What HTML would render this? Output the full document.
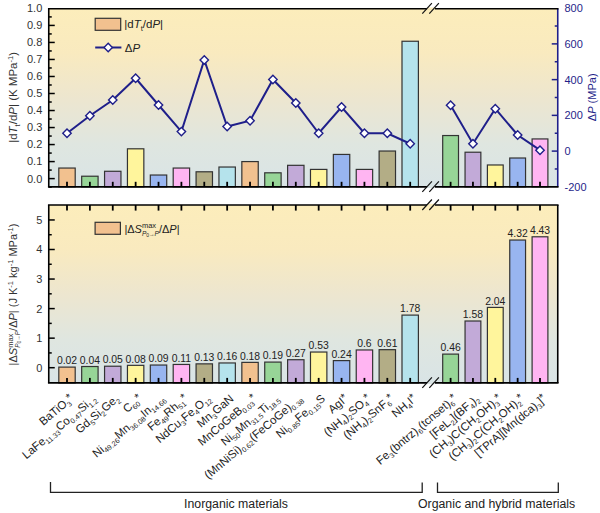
<!DOCTYPE html><html><head><meta charset="utf-8"><style>html,body{margin:0;padding:0;background:#fff;}svg{display:block}</style></head><body>
<svg width="600" height="513" viewBox="0 0 600 513">
<defs><linearGradient id="bg" x1="0" y1="0" x2="0" y2="1"><stop offset="0" stop-color="#fcedbb"/><stop offset="0.25" stop-color="#f9eabf"/><stop offset="0.5" stop-color="#ede6cf"/><stop offset="0.76" stop-color="#dfe6e0"/><stop offset="1" stop-color="#d9e4e6"/></linearGradient></defs>
<rect x="48.75" y="8.7" width="509.0" height="178.10000000000002" fill="url(#bg)"/>
<rect x="48.75" y="205.0" width="509.0" height="177.89999999999998" fill="url(#bg)"/>
<rect x="58.80" y="168.05" width="16.40" height="18.75" fill="#f2c18f" stroke="#333" stroke-width="1.2"/>
<rect x="81.68" y="176.22" width="16.40" height="10.58" fill="#97d597" stroke="#333" stroke-width="1.2"/>
<rect x="104.56" y="171.28" width="16.40" height="15.52" fill="#c2aad8" stroke="#333" stroke-width="1.2"/>
<rect x="127.44" y="148.81" width="16.40" height="37.99" fill="#fff59c" stroke="#333" stroke-width="1.2"/>
<rect x="150.32" y="175.03" width="16.40" height="11.77" fill="#98b5f0" stroke="#333" stroke-width="1.2"/>
<rect x="173.20" y="168.05" width="16.40" height="18.75" fill="#ffb5f2" stroke="#333" stroke-width="1.2"/>
<rect x="196.08" y="171.79" width="16.40" height="15.01" fill="#b3ad86" stroke="#333" stroke-width="1.2"/>
<rect x="218.96" y="167.03" width="16.40" height="19.77" fill="#b5e3ec" stroke="#333" stroke-width="1.2"/>
<rect x="241.84" y="161.58" width="16.40" height="25.22" fill="#f2c18f" stroke="#333" stroke-width="1.2"/>
<rect x="264.72" y="172.81" width="16.40" height="13.99" fill="#97d597" stroke="#333" stroke-width="1.2"/>
<rect x="287.60" y="165.32" width="16.40" height="21.48" fill="#c2aad8" stroke="#333" stroke-width="1.2"/>
<rect x="310.48" y="169.41" width="16.40" height="17.39" fill="#fff59c" stroke="#333" stroke-width="1.2"/>
<rect x="333.36" y="154.43" width="16.40" height="32.37" fill="#98b5f0" stroke="#333" stroke-width="1.2"/>
<rect x="356.24" y="169.41" width="16.40" height="17.39" fill="#ffb5f2" stroke="#333" stroke-width="1.2"/>
<rect x="379.12" y="151.03" width="16.40" height="35.77" fill="#b3ad86" stroke="#333" stroke-width="1.2"/>
<rect x="402.00" y="41.25" width="16.40" height="145.55" fill="#b5e3ec" stroke="#333" stroke-width="1.2"/>
<rect x="442.70" y="135.54" width="15.80" height="51.26" fill="#97d597" stroke="#333" stroke-width="1.2"/>
<rect x="465.05" y="152.22" width="15.80" height="34.58" fill="#c2aad8" stroke="#333" stroke-width="1.2"/>
<rect x="487.40" y="164.98" width="15.80" height="21.82" fill="#fff59c" stroke="#333" stroke-width="1.2"/>
<rect x="509.75" y="158.01" width="15.80" height="28.79" fill="#98b5f0" stroke="#333" stroke-width="1.2"/>
<rect x="532.10" y="138.94" width="15.80" height="47.86" fill="#ffb5f2" stroke="#333" stroke-width="1.2"/>
<rect x="58.80" y="367.11" width="16.40" height="15.79" fill="#f2c18f" stroke="#333" stroke-width="1.2"/>
<rect x="81.68" y="366.52" width="16.40" height="16.38" fill="#97d597" stroke="#333" stroke-width="1.2"/>
<rect x="104.56" y="366.22" width="16.40" height="16.68" fill="#c2aad8" stroke="#333" stroke-width="1.2"/>
<rect x="127.44" y="365.34" width="16.40" height="17.56" fill="#fff59c" stroke="#333" stroke-width="1.2"/>
<rect x="150.32" y="365.04" width="16.40" height="17.86" fill="#98b5f0" stroke="#333" stroke-width="1.2"/>
<rect x="173.20" y="364.45" width="16.40" height="18.45" fill="#ffb5f2" stroke="#333" stroke-width="1.2"/>
<rect x="196.08" y="363.86" width="16.40" height="19.04" fill="#b3ad86" stroke="#333" stroke-width="1.2"/>
<rect x="218.96" y="362.97" width="16.40" height="19.93" fill="#b5e3ec" stroke="#333" stroke-width="1.2"/>
<rect x="241.84" y="362.38" width="16.40" height="20.52" fill="#f2c18f" stroke="#333" stroke-width="1.2"/>
<rect x="264.72" y="362.09" width="16.40" height="20.81" fill="#97d597" stroke="#333" stroke-width="1.2"/>
<rect x="287.60" y="359.72" width="16.40" height="23.18" fill="#c2aad8" stroke="#333" stroke-width="1.2"/>
<rect x="310.48" y="352.04" width="16.40" height="30.86" fill="#fff59c" stroke="#333" stroke-width="1.2"/>
<rect x="333.36" y="360.61" width="16.40" height="22.29" fill="#98b5f0" stroke="#333" stroke-width="1.2"/>
<rect x="356.24" y="349.97" width="16.40" height="32.93" fill="#ffb5f2" stroke="#333" stroke-width="1.2"/>
<rect x="379.12" y="349.67" width="16.40" height="33.23" fill="#b3ad86" stroke="#333" stroke-width="1.2"/>
<rect x="402.00" y="315.10" width="16.40" height="67.80" fill="#b5e3ec" stroke="#333" stroke-width="1.2"/>
<rect x="442.70" y="354.11" width="15.80" height="28.79" fill="#97d597" stroke="#333" stroke-width="1.2"/>
<rect x="465.05" y="321.01" width="15.80" height="61.89" fill="#c2aad8" stroke="#333" stroke-width="1.2"/>
<rect x="487.40" y="307.42" width="15.80" height="75.48" fill="#fff59c" stroke="#333" stroke-width="1.2"/>
<rect x="509.75" y="240.04" width="15.80" height="142.86" fill="#98b5f0" stroke="#333" stroke-width="1.2"/>
<rect x="532.10" y="236.79" width="15.80" height="146.11" fill="#ffb5f2" stroke="#333" stroke-width="1.2"/>
<line x1="67.00" y1="186.8" x2="67.00" y2="181.8" stroke="#000" stroke-width="1.8"/>
<line x1="67.00" y1="382.9" x2="67.00" y2="377.9" stroke="#000" stroke-width="1.8"/>
<line x1="67.00" y1="205.0" x2="67.00" y2="210.6" stroke="#000" stroke-width="1.8"/>
<line x1="89.88" y1="186.8" x2="89.88" y2="181.8" stroke="#000" stroke-width="1.8"/>
<line x1="89.88" y1="382.9" x2="89.88" y2="377.9" stroke="#000" stroke-width="1.8"/>
<line x1="89.88" y1="205.0" x2="89.88" y2="210.6" stroke="#000" stroke-width="1.8"/>
<line x1="112.76" y1="186.8" x2="112.76" y2="181.8" stroke="#000" stroke-width="1.8"/>
<line x1="112.76" y1="382.9" x2="112.76" y2="377.9" stroke="#000" stroke-width="1.8"/>
<line x1="112.76" y1="205.0" x2="112.76" y2="210.6" stroke="#000" stroke-width="1.8"/>
<line x1="135.64" y1="186.8" x2="135.64" y2="181.8" stroke="#000" stroke-width="1.8"/>
<line x1="135.64" y1="382.9" x2="135.64" y2="377.9" stroke="#000" stroke-width="1.8"/>
<line x1="135.64" y1="205.0" x2="135.64" y2="210.6" stroke="#000" stroke-width="1.8"/>
<line x1="158.52" y1="186.8" x2="158.52" y2="181.8" stroke="#000" stroke-width="1.8"/>
<line x1="158.52" y1="382.9" x2="158.52" y2="377.9" stroke="#000" stroke-width="1.8"/>
<line x1="158.52" y1="205.0" x2="158.52" y2="210.6" stroke="#000" stroke-width="1.8"/>
<line x1="181.40" y1="186.8" x2="181.40" y2="181.8" stroke="#000" stroke-width="1.8"/>
<line x1="181.40" y1="382.9" x2="181.40" y2="377.9" stroke="#000" stroke-width="1.8"/>
<line x1="181.40" y1="205.0" x2="181.40" y2="210.6" stroke="#000" stroke-width="1.8"/>
<line x1="204.28" y1="186.8" x2="204.28" y2="181.8" stroke="#000" stroke-width="1.8"/>
<line x1="204.28" y1="382.9" x2="204.28" y2="377.9" stroke="#000" stroke-width="1.8"/>
<line x1="204.28" y1="205.0" x2="204.28" y2="210.6" stroke="#000" stroke-width="1.8"/>
<line x1="227.16" y1="186.8" x2="227.16" y2="181.8" stroke="#000" stroke-width="1.8"/>
<line x1="227.16" y1="382.9" x2="227.16" y2="377.9" stroke="#000" stroke-width="1.8"/>
<line x1="227.16" y1="205.0" x2="227.16" y2="210.6" stroke="#000" stroke-width="1.8"/>
<line x1="250.04" y1="186.8" x2="250.04" y2="181.8" stroke="#000" stroke-width="1.8"/>
<line x1="250.04" y1="382.9" x2="250.04" y2="377.9" stroke="#000" stroke-width="1.8"/>
<line x1="250.04" y1="205.0" x2="250.04" y2="210.6" stroke="#000" stroke-width="1.8"/>
<line x1="272.92" y1="186.8" x2="272.92" y2="181.8" stroke="#000" stroke-width="1.8"/>
<line x1="272.92" y1="382.9" x2="272.92" y2="377.9" stroke="#000" stroke-width="1.8"/>
<line x1="272.92" y1="205.0" x2="272.92" y2="210.6" stroke="#000" stroke-width="1.8"/>
<line x1="295.80" y1="186.8" x2="295.80" y2="181.8" stroke="#000" stroke-width="1.8"/>
<line x1="295.80" y1="382.9" x2="295.80" y2="377.9" stroke="#000" stroke-width="1.8"/>
<line x1="295.80" y1="205.0" x2="295.80" y2="210.6" stroke="#000" stroke-width="1.8"/>
<line x1="318.68" y1="186.8" x2="318.68" y2="181.8" stroke="#000" stroke-width="1.8"/>
<line x1="318.68" y1="382.9" x2="318.68" y2="377.9" stroke="#000" stroke-width="1.8"/>
<line x1="318.68" y1="205.0" x2="318.68" y2="210.6" stroke="#000" stroke-width="1.8"/>
<line x1="341.56" y1="186.8" x2="341.56" y2="181.8" stroke="#000" stroke-width="1.8"/>
<line x1="341.56" y1="382.9" x2="341.56" y2="377.9" stroke="#000" stroke-width="1.8"/>
<line x1="341.56" y1="205.0" x2="341.56" y2="210.6" stroke="#000" stroke-width="1.8"/>
<line x1="364.44" y1="186.8" x2="364.44" y2="181.8" stroke="#000" stroke-width="1.8"/>
<line x1="364.44" y1="382.9" x2="364.44" y2="377.9" stroke="#000" stroke-width="1.8"/>
<line x1="364.44" y1="205.0" x2="364.44" y2="210.6" stroke="#000" stroke-width="1.8"/>
<line x1="387.32" y1="186.8" x2="387.32" y2="181.8" stroke="#000" stroke-width="1.8"/>
<line x1="387.32" y1="382.9" x2="387.32" y2="377.9" stroke="#000" stroke-width="1.8"/>
<line x1="387.32" y1="205.0" x2="387.32" y2="210.6" stroke="#000" stroke-width="1.8"/>
<line x1="410.20" y1="186.8" x2="410.20" y2="181.8" stroke="#000" stroke-width="1.8"/>
<line x1="410.20" y1="382.9" x2="410.20" y2="377.9" stroke="#000" stroke-width="1.8"/>
<line x1="410.20" y1="205.0" x2="410.20" y2="210.6" stroke="#000" stroke-width="1.8"/>
<line x1="450.60" y1="186.8" x2="450.60" y2="181.8" stroke="#000" stroke-width="1.8"/>
<line x1="450.60" y1="382.9" x2="450.60" y2="377.9" stroke="#000" stroke-width="1.8"/>
<line x1="450.60" y1="205.0" x2="450.60" y2="210.6" stroke="#000" stroke-width="1.8"/>
<line x1="472.95" y1="186.8" x2="472.95" y2="181.8" stroke="#000" stroke-width="1.8"/>
<line x1="472.95" y1="382.9" x2="472.95" y2="377.9" stroke="#000" stroke-width="1.8"/>
<line x1="472.95" y1="205.0" x2="472.95" y2="210.6" stroke="#000" stroke-width="1.8"/>
<line x1="495.30" y1="186.8" x2="495.30" y2="181.8" stroke="#000" stroke-width="1.8"/>
<line x1="495.30" y1="382.9" x2="495.30" y2="377.9" stroke="#000" stroke-width="1.8"/>
<line x1="495.30" y1="205.0" x2="495.30" y2="210.6" stroke="#000" stroke-width="1.8"/>
<line x1="517.65" y1="186.8" x2="517.65" y2="181.8" stroke="#000" stroke-width="1.8"/>
<line x1="517.65" y1="382.9" x2="517.65" y2="377.9" stroke="#000" stroke-width="1.8"/>
<line x1="517.65" y1="205.0" x2="517.65" y2="210.6" stroke="#000" stroke-width="1.8"/>
<line x1="540.00" y1="186.8" x2="540.00" y2="181.8" stroke="#000" stroke-width="1.8"/>
<line x1="540.00" y1="382.9" x2="540.00" y2="377.9" stroke="#000" stroke-width="1.8"/>
<line x1="540.00" y1="205.0" x2="540.00" y2="210.6" stroke="#000" stroke-width="1.8"/>
<polyline points="67.00,133.25 89.88,115.75 112.76,100.00 135.64,78.25 158.52,105.00 181.40,131.60 204.28,60.00 227.16,126.50 250.04,120.75 272.92,79.50 295.80,103.00 318.68,133.25 341.56,107.00 364.44,133.25 387.32,133.25 410.20,143.75" fill="none" stroke="#1f1f8a" stroke-width="2"/>
<polyline points="450.60,105.20 472.95,143.70 495.30,108.70 517.65,135.00 540.00,150.20" fill="none" stroke="#1f1f8a" stroke-width="2"/>
<path d="M67.00,129.05 L71.20,133.25 L67.00,137.45 L62.80,133.25 Z" fill="#fff" stroke="#1f1f8a" stroke-width="1.4"/>
<path d="M89.88,111.55 L94.08,115.75 L89.88,119.95 L85.68,115.75 Z" fill="#fff" stroke="#1f1f8a" stroke-width="1.4"/>
<path d="M112.76,95.80 L116.96,100.00 L112.76,104.20 L108.56,100.00 Z" fill="#fff" stroke="#1f1f8a" stroke-width="1.4"/>
<path d="M135.64,74.05 L139.84,78.25 L135.64,82.45 L131.44,78.25 Z" fill="#fff" stroke="#1f1f8a" stroke-width="1.4"/>
<path d="M158.52,100.80 L162.72,105.00 L158.52,109.20 L154.32,105.00 Z" fill="#fff" stroke="#1f1f8a" stroke-width="1.4"/>
<path d="M181.40,127.40 L185.60,131.60 L181.40,135.80 L177.20,131.60 Z" fill="#fff" stroke="#1f1f8a" stroke-width="1.4"/>
<path d="M204.28,55.80 L208.48,60.00 L204.28,64.20 L200.08,60.00 Z" fill="#fff" stroke="#1f1f8a" stroke-width="1.4"/>
<path d="M227.16,122.30 L231.36,126.50 L227.16,130.70 L222.96,126.50 Z" fill="#fff" stroke="#1f1f8a" stroke-width="1.4"/>
<path d="M250.04,116.55 L254.24,120.75 L250.04,124.95 L245.84,120.75 Z" fill="#fff" stroke="#1f1f8a" stroke-width="1.4"/>
<path d="M272.92,75.30 L277.12,79.50 L272.92,83.70 L268.72,79.50 Z" fill="#fff" stroke="#1f1f8a" stroke-width="1.4"/>
<path d="M295.80,98.80 L300.00,103.00 L295.80,107.20 L291.60,103.00 Z" fill="#fff" stroke="#1f1f8a" stroke-width="1.4"/>
<path d="M318.68,129.05 L322.88,133.25 L318.68,137.45 L314.48,133.25 Z" fill="#fff" stroke="#1f1f8a" stroke-width="1.4"/>
<path d="M341.56,102.80 L345.76,107.00 L341.56,111.20 L337.36,107.00 Z" fill="#fff" stroke="#1f1f8a" stroke-width="1.4"/>
<path d="M364.44,129.05 L368.64,133.25 L364.44,137.45 L360.24,133.25 Z" fill="#fff" stroke="#1f1f8a" stroke-width="1.4"/>
<path d="M387.32,129.05 L391.52,133.25 L387.32,137.45 L383.12,133.25 Z" fill="#fff" stroke="#1f1f8a" stroke-width="1.4"/>
<path d="M410.20,139.55 L414.40,143.75 L410.20,147.95 L406.00,143.75 Z" fill="#fff" stroke="#1f1f8a" stroke-width="1.4"/>
<path d="M450.60,101.00 L454.80,105.20 L450.60,109.40 L446.40,105.20 Z" fill="#fff" stroke="#1f1f8a" stroke-width="1.4"/>
<path d="M472.95,139.50 L477.15,143.70 L472.95,147.90 L468.75,143.70 Z" fill="#fff" stroke="#1f1f8a" stroke-width="1.4"/>
<path d="M495.30,104.50 L499.50,108.70 L495.30,112.90 L491.10,108.70 Z" fill="#fff" stroke="#1f1f8a" stroke-width="1.4"/>
<path d="M517.65,130.80 L521.85,135.00 L517.65,139.20 L513.45,135.00 Z" fill="#fff" stroke="#1f1f8a" stroke-width="1.4"/>
<path d="M540.00,146.00 L544.20,150.20 L540.00,154.40 L535.80,150.20 Z" fill="#fff" stroke="#1f1f8a" stroke-width="1.4"/>
<line x1="48.75" y1="8.7" x2="48.75" y2="186.8" stroke="#000" stroke-width="1.6"/>
<line x1="557.75" y1="8.7" x2="557.75" y2="186.8" stroke="#1f1f8a" stroke-width="1.6"/>
<line x1="47.95" y1="8.7" x2="558.55" y2="8.7" stroke="#000" stroke-width="1.5"/>
<line x1="47.95" y1="186.8" x2="558.55" y2="186.8" stroke="#000" stroke-width="1.8"/>
<line x1="48.75" y1="205.0" x2="48.75" y2="382.9" stroke="#000" stroke-width="1.6"/>
<line x1="557.75" y1="205.0" x2="557.75" y2="382.9" stroke="#000" stroke-width="1.6"/>
<line x1="47.95" y1="205.0" x2="558.55" y2="205.0" stroke="#000" stroke-width="1.5"/>
<line x1="47.95" y1="382.9" x2="558.55" y2="382.9" stroke="#000" stroke-width="1.8"/>
<line x1="48.75" y1="178.60" x2="54.75" y2="178.60" stroke="#000" stroke-width="1.5"/>
<line x1="48.75" y1="170.09" x2="51.75" y2="170.09" stroke="#000" stroke-width="1.5"/>
<line x1="48.75" y1="161.58" x2="54.75" y2="161.58" stroke="#000" stroke-width="1.5"/>
<line x1="48.75" y1="153.07" x2="51.75" y2="153.07" stroke="#000" stroke-width="1.5"/>
<line x1="48.75" y1="144.56" x2="54.75" y2="144.56" stroke="#000" stroke-width="1.5"/>
<line x1="48.75" y1="136.05" x2="51.75" y2="136.05" stroke="#000" stroke-width="1.5"/>
<line x1="48.75" y1="127.54" x2="54.75" y2="127.54" stroke="#000" stroke-width="1.5"/>
<line x1="48.75" y1="119.03" x2="51.75" y2="119.03" stroke="#000" stroke-width="1.5"/>
<line x1="48.75" y1="110.52" x2="54.75" y2="110.52" stroke="#000" stroke-width="1.5"/>
<line x1="48.75" y1="102.01" x2="51.75" y2="102.01" stroke="#000" stroke-width="1.5"/>
<line x1="48.75" y1="93.50" x2="54.75" y2="93.50" stroke="#000" stroke-width="1.5"/>
<line x1="48.75" y1="84.99" x2="51.75" y2="84.99" stroke="#000" stroke-width="1.5"/>
<line x1="48.75" y1="76.48" x2="54.75" y2="76.48" stroke="#000" stroke-width="1.5"/>
<line x1="48.75" y1="67.97" x2="51.75" y2="67.97" stroke="#000" stroke-width="1.5"/>
<line x1="48.75" y1="59.46" x2="54.75" y2="59.46" stroke="#000" stroke-width="1.5"/>
<line x1="48.75" y1="50.95" x2="51.75" y2="50.95" stroke="#000" stroke-width="1.5"/>
<line x1="48.75" y1="42.44" x2="54.75" y2="42.44" stroke="#000" stroke-width="1.5"/>
<line x1="48.75" y1="33.93" x2="51.75" y2="33.93" stroke="#000" stroke-width="1.5"/>
<line x1="48.75" y1="25.42" x2="54.75" y2="25.42" stroke="#000" stroke-width="1.5"/>
<line x1="48.75" y1="16.91" x2="51.75" y2="16.91" stroke="#000" stroke-width="1.5"/>
<line x1="48.75" y1="187.11" x2="51.75" y2="187.11" stroke="#000" stroke-width="1.5"/>
<text x="42.3" y="182.50" text-anchor="end" font-size="11" font-family="Liberation Sans, sans-serif" fill="#333">0.0</text>
<text x="42.3" y="165.48" text-anchor="end" font-size="11" font-family="Liberation Sans, sans-serif" fill="#333">0.1</text>
<text x="42.3" y="148.46" text-anchor="end" font-size="11" font-family="Liberation Sans, sans-serif" fill="#333">0.2</text>
<text x="42.3" y="131.44" text-anchor="end" font-size="11" font-family="Liberation Sans, sans-serif" fill="#333">0.3</text>
<text x="42.3" y="114.42" text-anchor="end" font-size="11" font-family="Liberation Sans, sans-serif" fill="#333">0.4</text>
<text x="42.3" y="97.40" text-anchor="end" font-size="11" font-family="Liberation Sans, sans-serif" fill="#333">0.5</text>
<text x="42.3" y="80.38" text-anchor="end" font-size="11" font-family="Liberation Sans, sans-serif" fill="#333">0.6</text>
<text x="42.3" y="63.36" text-anchor="end" font-size="11" font-family="Liberation Sans, sans-serif" fill="#333">0.7</text>
<text x="42.3" y="46.34" text-anchor="end" font-size="11" font-family="Liberation Sans, sans-serif" fill="#333">0.8</text>
<text x="42.3" y="29.32" text-anchor="end" font-size="11" font-family="Liberation Sans, sans-serif" fill="#333">0.9</text>
<text x="42.3" y="12.30" text-anchor="end" font-size="11" font-family="Liberation Sans, sans-serif" fill="#333">1.0</text>
<line x1="557.75" y1="168.97" x2="554.75" y2="168.97" stroke="#1f1f8a" stroke-width="1.5"/>
<line x1="557.75" y1="151.10" x2="551.75" y2="151.10" stroke="#1f1f8a" stroke-width="1.5"/>
<line x1="557.75" y1="133.23" x2="554.75" y2="133.23" stroke="#1f1f8a" stroke-width="1.5"/>
<line x1="557.75" y1="115.36" x2="551.75" y2="115.36" stroke="#1f1f8a" stroke-width="1.5"/>
<line x1="557.75" y1="97.49" x2="554.75" y2="97.49" stroke="#1f1f8a" stroke-width="1.5"/>
<line x1="557.75" y1="79.62" x2="551.75" y2="79.62" stroke="#1f1f8a" stroke-width="1.5"/>
<line x1="557.75" y1="61.75" x2="554.75" y2="61.75" stroke="#1f1f8a" stroke-width="1.5"/>
<line x1="557.75" y1="43.88" x2="551.75" y2="43.88" stroke="#1f1f8a" stroke-width="1.5"/>
<line x1="557.75" y1="26.01" x2="554.75" y2="26.01" stroke="#1f1f8a" stroke-width="1.5"/>
<text x="564.5" y="190.74" font-size="11" font-family="Liberation Sans, sans-serif" fill="#1f1f8a">-200</text>
<text x="564.5" y="155.00" font-size="11" font-family="Liberation Sans, sans-serif" fill="#1f1f8a">0</text>
<text x="564.5" y="119.26" font-size="11" font-family="Liberation Sans, sans-serif" fill="#1f1f8a">200</text>
<text x="564.5" y="83.52" font-size="11" font-family="Liberation Sans, sans-serif" fill="#1f1f8a">400</text>
<text x="564.5" y="47.78" font-size="11" font-family="Liberation Sans, sans-serif" fill="#1f1f8a">600</text>
<text x="564.5" y="12.04" font-size="11" font-family="Liberation Sans, sans-serif" fill="#1f1f8a">800</text>
<line x1="48.75" y1="367.70" x2="54.75" y2="367.70" stroke="#000" stroke-width="1.5"/>
<line x1="48.75" y1="352.93" x2="51.75" y2="352.93" stroke="#000" stroke-width="1.5"/>
<line x1="48.75" y1="338.15" x2="54.75" y2="338.15" stroke="#000" stroke-width="1.5"/>
<line x1="48.75" y1="323.38" x2="51.75" y2="323.38" stroke="#000" stroke-width="1.5"/>
<line x1="48.75" y1="308.60" x2="54.75" y2="308.60" stroke="#000" stroke-width="1.5"/>
<line x1="48.75" y1="293.82" x2="51.75" y2="293.82" stroke="#000" stroke-width="1.5"/>
<line x1="48.75" y1="279.05" x2="54.75" y2="279.05" stroke="#000" stroke-width="1.5"/>
<line x1="48.75" y1="264.27" x2="51.75" y2="264.27" stroke="#000" stroke-width="1.5"/>
<line x1="48.75" y1="249.50" x2="54.75" y2="249.50" stroke="#000" stroke-width="1.5"/>
<line x1="48.75" y1="234.72" x2="51.75" y2="234.72" stroke="#000" stroke-width="1.5"/>
<line x1="48.75" y1="219.95" x2="54.75" y2="219.95" stroke="#000" stroke-width="1.5"/>
<text x="42.3" y="371.60" text-anchor="end" font-size="11" font-family="Liberation Sans, sans-serif" fill="#333">0</text>
<text x="42.3" y="342.05" text-anchor="end" font-size="11" font-family="Liberation Sans, sans-serif" fill="#333">1</text>
<text x="42.3" y="312.50" text-anchor="end" font-size="11" font-family="Liberation Sans, sans-serif" fill="#333">2</text>
<text x="42.3" y="282.95" text-anchor="end" font-size="11" font-family="Liberation Sans, sans-serif" fill="#333">3</text>
<text x="42.3" y="253.40" text-anchor="end" font-size="11" font-family="Liberation Sans, sans-serif" fill="#333">4</text>
<text x="42.3" y="223.85" text-anchor="end" font-size="11" font-family="Liberation Sans, sans-serif" fill="#333">5</text>
<text x="67.00" y="364.31" text-anchor="middle" font-size="10.4" font-family="Liberation Sans, sans-serif" fill="#222">0.02</text>
<text x="89.88" y="363.72" text-anchor="middle" font-size="10.4" font-family="Liberation Sans, sans-serif" fill="#222">0.04</text>
<text x="112.76" y="363.42" text-anchor="middle" font-size="10.4" font-family="Liberation Sans, sans-serif" fill="#222">0.05</text>
<text x="135.64" y="362.54" text-anchor="middle" font-size="10.4" font-family="Liberation Sans, sans-serif" fill="#222">0.08</text>
<text x="158.52" y="362.24" text-anchor="middle" font-size="10.4" font-family="Liberation Sans, sans-serif" fill="#222">0.09</text>
<text x="181.40" y="361.65" text-anchor="middle" font-size="10.4" font-family="Liberation Sans, sans-serif" fill="#222">0.11</text>
<text x="204.28" y="361.06" text-anchor="middle" font-size="10.4" font-family="Liberation Sans, sans-serif" fill="#222">0.13</text>
<text x="227.16" y="360.17" text-anchor="middle" font-size="10.4" font-family="Liberation Sans, sans-serif" fill="#222">0.16</text>
<text x="250.04" y="359.58" text-anchor="middle" font-size="10.4" font-family="Liberation Sans, sans-serif" fill="#222">0.18</text>
<text x="272.92" y="359.29" text-anchor="middle" font-size="10.4" font-family="Liberation Sans, sans-serif" fill="#222">0.19</text>
<text x="295.80" y="356.92" text-anchor="middle" font-size="10.4" font-family="Liberation Sans, sans-serif" fill="#222">0.27</text>
<text x="318.68" y="349.24" text-anchor="middle" font-size="10.4" font-family="Liberation Sans, sans-serif" fill="#222">0.53</text>
<text x="341.56" y="357.81" text-anchor="middle" font-size="10.4" font-family="Liberation Sans, sans-serif" fill="#222">0.24</text>
<text x="364.44" y="347.17" text-anchor="middle" font-size="10.4" font-family="Liberation Sans, sans-serif" fill="#222">0.6</text>
<text x="387.32" y="346.87" text-anchor="middle" font-size="10.4" font-family="Liberation Sans, sans-serif" fill="#222">0.61</text>
<text x="410.20" y="312.30" text-anchor="middle" font-size="10.4" font-family="Liberation Sans, sans-serif" fill="#222">1.78</text>
<text x="450.60" y="351.31" text-anchor="middle" font-size="10.4" font-family="Liberation Sans, sans-serif" fill="#222">0.46</text>
<text x="472.95" y="318.21" text-anchor="middle" font-size="10.4" font-family="Liberation Sans, sans-serif" fill="#222">1.58</text>
<text x="495.30" y="304.62" text-anchor="middle" font-size="10.4" font-family="Liberation Sans, sans-serif" fill="#222">2.04</text>
<text x="517.65" y="237.24" text-anchor="middle" font-size="10.4" font-family="Liberation Sans, sans-serif" fill="#222">4.32</text>
<text x="540.00" y="233.99" text-anchor="middle" font-size="10.4" font-family="Liberation Sans, sans-serif" fill="#222">4.43</text>
<rect x="427" y="185.60000000000002" width="8" height="2.4" fill="#dae4e5"/>
<line x1="422.3" y1="191.8" x2="431.90000000000003" y2="181.3" stroke="#111" stroke-width="1.2"/>
<line x1="429.3" y1="191.8" x2="438.90000000000003" y2="181.3" stroke="#111" stroke-width="1.2"/>
<rect x="427" y="7.499999999999999" width="8" height="2.4" fill="#fcedbb"/>
<line x1="422.3" y1="13.7" x2="431.90000000000003" y2="3.1999999999999993" stroke="#111" stroke-width="1.2"/>
<line x1="429.3" y1="13.7" x2="438.90000000000003" y2="3.1999999999999993" stroke="#111" stroke-width="1.2"/>
<rect x="427" y="203.8" width="8" height="2.4" fill="#fcedbb"/>
<line x1="422.3" y1="210.0" x2="431.90000000000003" y2="199.5" stroke="#111" stroke-width="1.2"/>
<line x1="429.3" y1="210.0" x2="438.90000000000003" y2="199.5" stroke="#111" stroke-width="1.2"/>
<rect x="427" y="381.7" width="8" height="2.4" fill="#dae4e5"/>
<line x1="422.3" y1="387.9" x2="431.90000000000003" y2="377.4" stroke="#111" stroke-width="1.2"/>
<line x1="429.3" y1="387.9" x2="438.90000000000003" y2="377.4" stroke="#111" stroke-width="1.2"/>
<text transform="translate(17.2,97.4) rotate(-90)" text-anchor="middle" font-size="11.5" font-family="Liberation Sans, sans-serif" fill="#333">|d<tspan font-style="italic">T</tspan><tspan font-size="7.5" dy="2.5">t</tspan><tspan dy="-2.5">/d</tspan><tspan font-style="italic">P</tspan>| (K MPa<tspan font-size="7.5" dy="-4">-1</tspan><tspan dy="4">)</tspan></text>
<text transform="translate(17.2,294.5) rotate(-90)" text-anchor="middle" font-size="11" font-family="Liberation Sans, sans-serif" fill="#333">|&#916;<tspan font-style="italic">S</tspan><tspan font-size="7.5" dy="-4.2">max</tspan><tspan font-size="6.5" dy="7" dx="-14.2" font-style="italic">P</tspan><tspan font-size="5" dy="1.3">0</tspan><tspan font-size="5.5" dy="-1.3">&#8594;</tspan><tspan font-size="6.5" font-style="italic">P</tspan><tspan dy="-2.8">/&#916;</tspan><tspan font-style="italic">P</tspan>| (J K<tspan font-size="7.5" dy="-4">-1</tspan><tspan dy="4"> kg</tspan><tspan font-size="7.5" dy="-4">-1</tspan><tspan dy="4"> MPa</tspan><tspan font-size="7.5" dy="-4">-1</tspan><tspan dy="4">)</tspan></text>
<text transform="translate(596.2,97.3) rotate(-90)" text-anchor="middle" font-size="11" font-family="Liberation Sans, sans-serif" fill="#1f1f8a">&#916;<tspan font-style="italic">P</tspan> (MPa)</text>
<rect x="95.2" y="18.3" width="25.5" height="12" fill="#f2c18f" stroke="#333" stroke-width="1.2"/>
<text x="124.3" y="28" font-size="11.5" font-family="Liberation Sans, sans-serif" fill="#222">|d<tspan font-style="italic">T</tspan><tspan font-size="7.5" dy="2.5">t</tspan><tspan dy="-2.5">/d</tspan><tspan font-style="italic">P</tspan>|</text>
<line x1="95.2" y1="47.5" x2="121.4" y2="47.5" stroke="#1f1f8a" stroke-width="2"/>
<path d="M108.20,43.30 L112.40,47.50 L108.20,51.70 L104.00,47.50 Z" fill="#fff" stroke="#1f1f8a" stroke-width="1.4"/>
<text x="124.7" y="51.5" font-size="11.5" font-family="Liberation Sans, sans-serif" fill="#222">&#916;<tspan font-style="italic">P</tspan></text>
<rect x="95.1" y="222.3" width="25.3" height="12" fill="#f2c18f" stroke="#333" stroke-width="1.2"/>
<text x="124.4" y="232.5" font-size="11" font-family="Liberation Sans, sans-serif" fill="#222">|&#916;<tspan font-style="italic">S</tspan><tspan font-size="7.5" dy="-4.5">max</tspan><tspan font-size="6.5" dy="7.5" dx="-14.2" font-style="italic">P</tspan><tspan font-size="5" dy="1.3">0</tspan><tspan font-size="5.5" dy="-1.3">&#8594;</tspan><tspan font-size="6.5" font-style="italic">P</tspan><tspan dy="-3">/&#916;</tspan><tspan font-style="italic">P</tspan>|</text>
<text transform="translate(74.30,399.90) rotate(-40)" text-anchor="end" font-family="Liberation Sans, sans-serif" fill="#222"><tspan font-size="11.5">BaTiO</tspan><tspan font-size="7.2" dy="2.60">3</tspan><tspan font-size="11.5" dy="-4.20">*</tspan></text>
<text transform="translate(97.18,399.90) rotate(-40)" text-anchor="end" font-family="Liberation Sans, sans-serif" fill="#222"><tspan font-size="11.5">LaFe</tspan><tspan font-size="7.2" dy="2.60">11.33</tspan><tspan font-size="11.5" dy="-2.60">Co</tspan><tspan font-size="7.2" dy="2.60">0.47</tspan><tspan font-size="11.5" dy="-2.60">Si</tspan><tspan font-size="7.2" dy="2.60">1.2</tspan></text>
<text transform="translate(120.06,399.90) rotate(-40)" text-anchor="end" font-family="Liberation Sans, sans-serif" fill="#222"><tspan font-size="11.5">Gd</tspan><tspan font-size="7.2" dy="2.60">5</tspan><tspan font-size="11.5" dy="-2.60">Si</tspan><tspan font-size="7.2" dy="2.60">2</tspan><tspan font-size="11.5" dy="-2.60">Ge</tspan><tspan font-size="7.2" dy="2.60">2</tspan></text>
<text transform="translate(142.94,399.90) rotate(-40)" text-anchor="end" font-family="Liberation Sans, sans-serif" fill="#222"><tspan font-size="11.5">C</tspan><tspan font-size="7.2" dy="2.60">60</tspan><tspan font-size="11.5" dy="-4.20">*</tspan></text>
<text transform="translate(165.82,399.90) rotate(-40)" text-anchor="end" font-family="Liberation Sans, sans-serif" fill="#222"><tspan font-size="11.5">Ni</tspan><tspan font-size="7.2" dy="2.60">49.26</tspan><tspan font-size="11.5" dy="-2.60">Mn</tspan><tspan font-size="7.2" dy="2.60">36.08</tspan><tspan font-size="11.5" dy="-2.60">In</tspan><tspan font-size="7.2" dy="2.60">14.66</tspan></text>
<text transform="translate(188.70,399.90) rotate(-40)" text-anchor="end" font-family="Liberation Sans, sans-serif" fill="#222"><tspan font-size="11.5">Fe</tspan><tspan font-size="7.2" dy="2.60">49</tspan><tspan font-size="11.5" dy="-2.60">Rh</tspan><tspan font-size="7.2" dy="2.60">51</tspan><tspan font-size="11.5" dy="-4.20">*</tspan></text>
<text transform="translate(211.58,399.90) rotate(-40)" text-anchor="end" font-family="Liberation Sans, sans-serif" fill="#222"><tspan font-size="11.5">NdCu</tspan><tspan font-size="7.2" dy="2.60">3</tspan><tspan font-size="11.5" dy="-2.60">Fe</tspan><tspan font-size="7.2" dy="2.60">4</tspan><tspan font-size="11.5" dy="-2.60">O</tspan><tspan font-size="7.2" dy="2.60">12</tspan></text>
<text transform="translate(234.46,399.90) rotate(-40)" text-anchor="end" font-family="Liberation Sans, sans-serif" fill="#222"><tspan font-size="11.5">Mn</tspan><tspan font-size="7.2" dy="2.60">3</tspan><tspan font-size="11.5" dy="-2.60">GaN</tspan></text>
<text transform="translate(257.34,399.90) rotate(-40)" text-anchor="end" font-family="Liberation Sans, sans-serif" fill="#222"><tspan font-size="11.5">MnCoGeB</tspan><tspan font-size="7.2" dy="2.60">0.03</tspan><tspan font-size="11.5" dy="-4.20">*</tspan></text>
<text transform="translate(280.22,399.90) rotate(-40)" text-anchor="end" font-family="Liberation Sans, sans-serif" fill="#222"><tspan font-size="11.5">Ni</tspan><tspan font-size="7.2" dy="2.60">50</tspan><tspan font-size="11.5" dy="-2.60">Mn</tspan><tspan font-size="7.2" dy="2.60">31.5</tspan><tspan font-size="11.5" dy="-2.60">Ti</tspan><tspan font-size="7.2" dy="2.60">18.5</tspan></text>
<text transform="translate(303.10,399.90) rotate(-40)" text-anchor="end" font-family="Liberation Sans, sans-serif" fill="#222"><tspan font-size="11.5">(MnNiSi)</tspan><tspan font-size="7.2" dy="2.60">0.62</tspan><tspan font-size="11.5" dy="-2.60">(FeCoGe)</tspan><tspan font-size="7.2" dy="2.60">0.38</tspan></text>
<text transform="translate(325.98,399.90) rotate(-40)" text-anchor="end" font-family="Liberation Sans, sans-serif" fill="#222"><tspan font-size="11.5">Ni</tspan><tspan font-size="7.2" dy="2.60">0.85</tspan><tspan font-size="11.5" dy="-2.60">Fe</tspan><tspan font-size="7.2" dy="2.60">0.15</tspan><tspan font-size="11.5" dy="-2.60">S</tspan></text>
<text transform="translate(348.86,399.90) rotate(-40)" text-anchor="end" font-family="Liberation Sans, sans-serif" fill="#222"><tspan font-size="11.5">AgI</tspan><tspan font-size="11.5" dy="-1.60">*</tspan></text>
<text transform="translate(371.74,399.90) rotate(-40)" text-anchor="end" font-family="Liberation Sans, sans-serif" fill="#222"><tspan font-size="11.5">(NH</tspan><tspan font-size="7.2" dy="2.60">4</tspan><tspan font-size="11.5" dy="-2.60">)</tspan><tspan font-size="7.2" dy="2.60">2</tspan><tspan font-size="11.5" dy="-2.60">SO</tspan><tspan font-size="7.2" dy="2.60">4</tspan><tspan font-size="11.5" dy="-4.20">*</tspan></text>
<text transform="translate(394.62,399.90) rotate(-40)" text-anchor="end" font-family="Liberation Sans, sans-serif" fill="#222"><tspan font-size="11.5">(NH</tspan><tspan font-size="7.2" dy="2.60">4</tspan><tspan font-size="11.5" dy="-2.60">)</tspan><tspan font-size="7.2" dy="2.60">2</tspan><tspan font-size="11.5" dy="-2.60">SnF</tspan><tspan font-size="7.2" dy="2.60">6</tspan><tspan font-size="11.5" dy="-4.20">*</tspan></text>
<text transform="translate(417.50,399.90) rotate(-40)" text-anchor="end" font-family="Liberation Sans, sans-serif" fill="#222"><tspan font-size="11.5">NH</tspan><tspan font-size="7.2" dy="2.60">4</tspan><tspan font-size="11.5" dy="-2.60">I</tspan><tspan font-size="11.5" dy="-1.60">*</tspan></text>
<text transform="translate(457.90,399.90) rotate(-40)" text-anchor="end" font-family="Liberation Sans, sans-serif" fill="#222"><tspan font-size="11.5">Fe</tspan><tspan font-size="7.2" dy="2.60">3</tspan><tspan font-size="11.5" dy="-2.60">(bntrz)</tspan><tspan font-size="7.2" dy="2.60">6</tspan><tspan font-size="11.5" dy="-2.60">(tcnset)</tspan><tspan font-size="7.2" dy="2.60">6</tspan><tspan font-size="11.5" dy="-4.20">*</tspan></text>
<text transform="translate(480.25,399.90) rotate(-40)" text-anchor="end" font-family="Liberation Sans, sans-serif" fill="#222"><tspan font-size="11.5">[FeL</tspan><tspan font-size="7.2" dy="2.60">2</tspan><tspan font-size="11.5" dy="-2.60">](BF</tspan><tspan font-size="7.2" dy="2.60">4</tspan><tspan font-size="11.5" dy="-2.60">)</tspan><tspan font-size="7.2" dy="2.60">2</tspan></text>
<text transform="translate(502.60,399.90) rotate(-40)" text-anchor="end" font-family="Liberation Sans, sans-serif" fill="#222"><tspan font-size="11.5">(CH</tspan><tspan font-size="7.2" dy="2.60">3</tspan><tspan font-size="11.5" dy="-2.60">)C(CH</tspan><tspan font-size="7.2" dy="2.60">2</tspan><tspan font-size="11.5" dy="-2.60">OH)</tspan><tspan font-size="7.2" dy="2.60">3</tspan><tspan font-size="11.5" dy="-4.20">*</tspan></text>
<text transform="translate(524.95,399.90) rotate(-40)" text-anchor="end" font-family="Liberation Sans, sans-serif" fill="#222"><tspan font-size="11.5">(CH</tspan><tspan font-size="7.2" dy="2.60">3</tspan><tspan font-size="11.5" dy="-2.60">)</tspan><tspan font-size="7.2" dy="2.60">2</tspan><tspan font-size="11.5" dy="-2.60">C(CH</tspan><tspan font-size="7.2" dy="2.60">2</tspan><tspan font-size="11.5" dy="-2.60">OH)</tspan><tspan font-size="7.2" dy="2.60">2</tspan><tspan font-size="11.5" dy="-4.20">*</tspan></text>
<text transform="translate(547.30,399.90) rotate(-40)" text-anchor="end" font-family="Liberation Sans, sans-serif" fill="#222"><tspan font-size="11.5">[TPrA][Mn(dca)</tspan><tspan font-size="7.2" dy="2.60">3</tspan><tspan font-size="11.5" dy="-2.60">]</tspan><tspan font-size="11.5" dy="-1.60">*</tspan></text>
<path d="M50.5,482 V492.3 H422.2 V482.5" fill="none" stroke="#222" stroke-width="1.3"/>
<path d="M437.5,482.5 V492.3 H558.3 V482.5" fill="none" stroke="#222" stroke-width="1.3"/>
<text x="184.1" y="507.5" font-size="12.3" font-family="Liberation Sans, sans-serif" fill="#222">Inorganic materials</text>
<text x="418" y="507.5" font-size="12.3" font-family="Liberation Sans, sans-serif" fill="#222">Organic and hybrid materials</text>
</svg></body></html>
